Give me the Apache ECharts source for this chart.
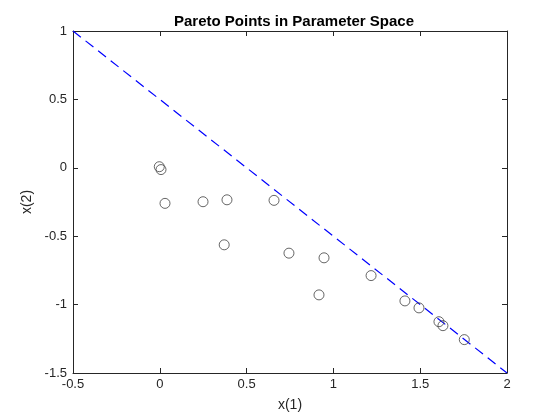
<!DOCTYPE html>
<html>
<head>
<meta charset="utf-8">
<script src="https://cdn.jsdelivr.net/npm/echarts@6/dist/echarts.min.js"></script>
<style>
  html, body { margin: 0; padding: 0; background: #fff; }
  #chart { width: 560px; height: 420px; }
</style>
</head>
<body>
<div id="chart"></div>
<script>
  // pareto points
  var x1 = [-0.003, 0.007, 0.03, 0.249, 0.387, 0.371, 0.658, 0.744, 0.946, 0.917, 1.217, 1.412, 1.493, 1.608, 1.631, 1.754];
  var x2 = [0.008, -0.013, -0.26, -0.248, -0.234, -0.563, -0.238, -0.624, -0.658, -0.929, -0.788, -0.973, -1.024, -1.125, -1.154, -1.256];
  // boundary line x(1) + x(2) = 0.5
  var lineX = [-0.5, 2];
  var lineY = [1, -1.5];

  var font = 'Liberation Sans, Arial, sans-serif';
  var pts = x1.map(function (v, i) { return [v, x2[i]]; });
  var linePts = lineX.map(function (v, i) { return [v, lineY[i]]; });

  var myChart = echarts.init(document.getElementById('chart'));

  var axisCommon = {
    axisLine: { show: true, onZero: false, lineStyle: { color: '#262626', width: 1 } },
    axisTick: { show: true, inside: true, length: 5, lineStyle: { color: '#262626' } },
    splitLine: { show: false }
  };

  var option = {
    animation: false,
    title: {
      text: 'Pareto Points in Parameter Space',
      left: 289, top: 9, textAlign: 'center',
      textStyle: { fontFamily: font, fontSize: 15, fontWeight: 'bold', color: '#000' }
    },
    grid: { left: 73, right: 53, top: 31, bottom: 47 },
    xAxis: [
      Object.assign({
        type: 'value', min: -0.5, max: 2, interval: 0.5, position: 'bottom',
        name: 'x(1)', nameLocation: 'middle', nameGap: 25,
        nameTextStyle: { fontFamily: font, fontSize: 14, color: '#262626' },
        axisLabel: { fontFamily: font, fontSize: 13, color: '#262626', margin: 5 }
      }, axisCommon),
      Object.assign({
        type: 'value', min: -0.5, max: 2, interval: 0.5, position: 'top',
        axisLabel: { show: false }
      }, axisCommon)
    ],
    yAxis: [
      Object.assign({
        type: 'value', min: -1.5, max: 1, interval: 0.5, position: 'left',
        name: 'x(2)', nameLocation: 'middle', nameGap: 31, nameRotate: 90,
        nameTextStyle: { fontFamily: font, fontSize: 14, color: '#262626' },
        axisLabel: { fontFamily: font, fontSize: 13, color: '#262626', margin: 6 }
      }, axisCommon),
      Object.assign({
        type: 'value', min: -1.5, max: 1, interval: 0.5, position: 'right',
        axisLabel: { show: false }
      }, axisCommon)
    ],
    series: [
      {
        type: 'line',
        data: linePts,
        symbol: 'none',
        lineStyle: { color: '#0000ff', width: 1.2, type: [10, 6] },
        z: 2
      },
      {
        type: 'scatter',
        data: pts,
        symbol: 'circle',
        symbolSize: 10,
        itemStyle: { color: 'rgba(0,0,0,0)', borderColor: '#404040', borderWidth: 1 },
        z: 3
      }
    ]
  };
  myChart.setOption(option);
</script>
</body>
</html>
